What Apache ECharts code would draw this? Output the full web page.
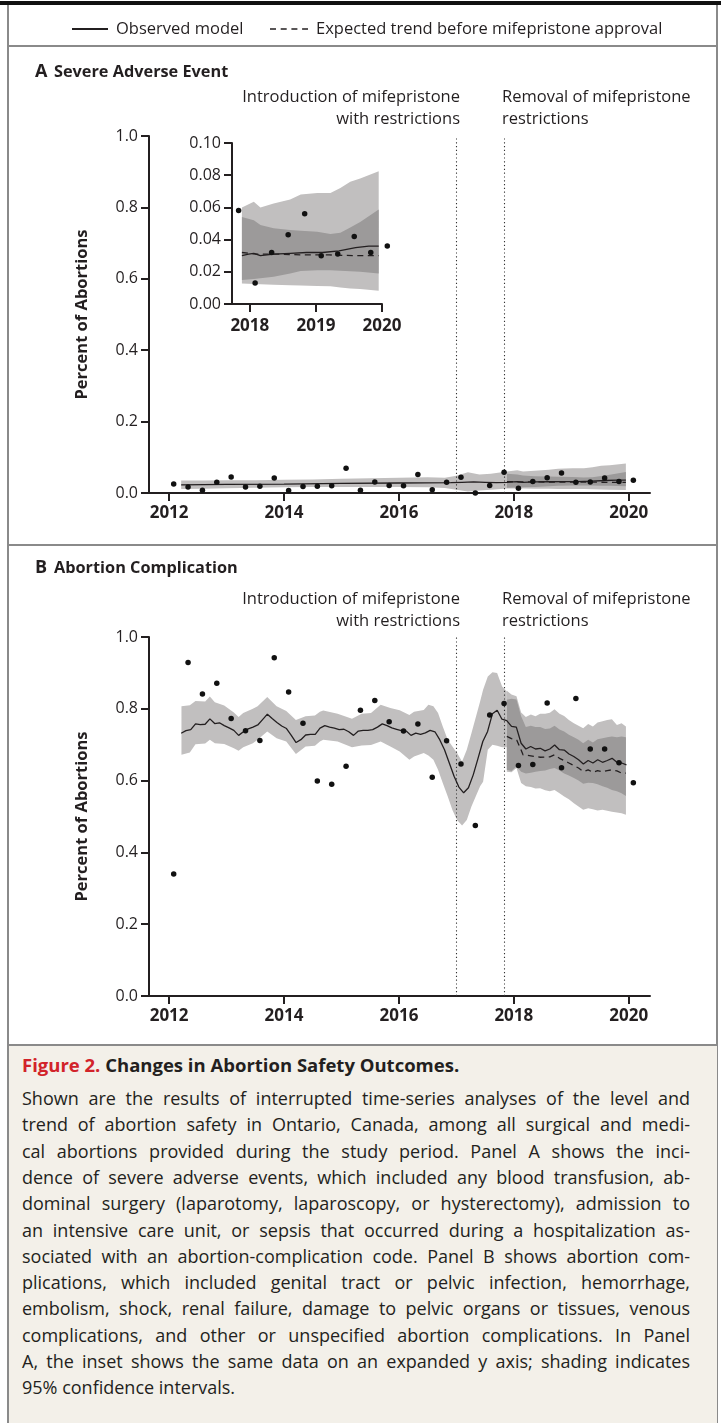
<!DOCTYPE html>
<html><head><meta charset="utf-8">
<script src="https://cdn.jsdelivr.net/npm/echarts@6/dist/echarts.min.js"></script>
<style>
html,body{margin:0;padding:0;background:#fff;}
#wrap{position:relative;width:721px;height:1423px;overflow:hidden;}
#chart{position:absolute;left:0;top:0;width:721px;height:1423px;}
#caption{position:absolute;left:9px;top:1046px;width:708px;height:377px;background:#f3f0e9;font-family:"Open Sans",sans-serif;color:#231f20;}
#caption .ttl{position:absolute;left:13px;top:6px;font-size:18.5px;font-weight:bold;line-height:26px;white-space:nowrap;}
#caption .ttl span{color:#d2232a;}
#caption .ln{position:absolute;left:13px;width:668px;font-size:17.5px;line-height:26px;white-space:nowrap;text-align:justify;text-align-last:justify;}
#caption .ln.last{text-align-last:left;}
#measure{position:absolute;visibility:hidden;white-space:nowrap;font-family:"Open Sans",sans-serif;font-size:20px;}
</style></head>
<body><div id="wrap"><div id="chart"></div><div id="caption"></div><span id="measure"></span></div>
<script>
// ---------- data ----------
const quarterStart = 2012.08;           // first quarterly observation
const monthStart = 2012.21;             // first monthly model estimate
const xTickYears = [2012, 2014, 2016, 2018, 2020];
const insetTickYears = [2018, 2019, 2020];
const eventYears = [2017.0, 2017.83];

// Panel A: severe adverse events (observed quarterly points)
const aPoints = [0.025,0.017,0.008,0.030,0.045,0.017,0.019,0.042,0.007,0.018,0.019,0.020,0.069,0.008,0.031,0.021,0.020,0.052,0.009,0.030,0.044,0.000,0.021,0.058,0.013,0.032,0.043,0.056,0.030,0.031,0.042,0.032,0.036];
// Panel A observed model line
const aLineX = [2012.21,2013.0,2014.0,2015.0,2016.0,2016.9,2017.1,2017.3,2017.5,2017.7,2017.88,2017.98,2018.06,2018.16,2018.36,2018.61,2018.86,2019.1,2019.35,2019.6,2019.8,2019.95];
const aLineY = [0.023,0.024,0.025,0.027,0.028,0.029,0.030,0.031,0.030,0.029,0.030,0.031,0.0315,0.030,0.031,0.0315,0.032,0.032,0.033,0.035,0.036,0.036];
// Panel A expected trend
const aDashX = [2017.88,2018.1,2018.4,2018.8,2019.2,2019.6,2019.95];
const aDashY = [0.032,0.031,0.031,0.0305,0.0305,0.030,0.030];
// Panel A confidence bands
const aPreX  = [2012.21,2012.6,2013.0,2013.5,2014.0,2014.5,2015.0,2015.5,2016.0,2016.5,2016.8,2017.0,2017.2,2017.4,2017.6,2017.88];
const aPreHi = [0.035,0.035,0.036,0.036,0.037,0.038,0.040,0.041,0.043,0.044,0.043,0.048,0.058,0.052,0.054,0.060];
const aPreLo = [0.011,0.012,0.013,0.015,0.016,0.017,0.017,0.017,0.017,0.016,0.014,0.009,0.004,0.007,0.009,0.0128];
const aPostX = [2017.88,2018.06,2018.16,2018.36,2018.61,2018.77,2019.02,2019.22,2019.37,2019.52,2019.67,2019.95];
const aOuterHi = [0.060,0.0635,0.060,0.0624,0.0649,0.068,0.069,0.069,0.072,0.076,0.078,0.0825];
const aOuterLo = [0.0128,0.0124,0.0123,0.012,0.0117,0.0115,0.0112,0.011,0.0102,0.0097,0.0093,0.0083];
const aInnerHi = [0.054,0.052,0.049,0.047,0.046,0.0455,0.0448,0.0435,0.0442,0.0475,0.051,0.0587];
const aInnerLo = [0.0149,0.0155,0.016,0.017,0.019,0.0205,0.021,0.021,0.0207,0.0203,0.020,0.019];

// Panel B: abortion complications
const bPoints = [0.340,0.929,0.841,0.871,0.773,0.739,0.712,0.942,0.847,0.760,0.599,0.590,0.640,0.796,0.823,0.764,0.738,0.758,0.609,0.711,0.646,0.475,0.783,0.815,0.642,0.645,0.816,0.636,0.829,0.688,0.688,0.650,0.594];
const bLine = [0.732,0.739,0.742,0.758,0.756,0.757,0.772,0.759,0.761,0.753,
0.747,0.740,0.726,0.736,0.744,0.749,0.755,0.770,0.785,0.773,
0.762,0.752,0.745,0.726,0.706,0.714,0.727,0.729,0.729,0.746,
0.753,0.749,0.746,0.742,0.743,0.736,0.726,0.738,0.740,0.740,
0.742,0.749,0.758,0.753,0.747,0.743,0.739,0.738,0.726,0.732,
0.729,0.733,0.740,0.736,0.714,0.686,0.649,0.612,0.582,0.566,
0.580,0.616,0.662,0.709,0.737,0.786,0.796,0.771,0.767,0.751,
0.749,0.704,0.688,0.695,0.688,0.690,0.683,0.688,0.699,0.686,
0.685,0.674,0.667,0.658,0.646,0.656,0.649,0.658,0.651,0.656,
0.662,0.651,0.649,0.644];
const bDashX = [2017.878,2017.959,2018.05,2018.10,2018.16,2018.296,2018.458,2018.627,2018.708,2018.795,2018.958,2019.126,2019.207,2019.294,2019.376,2019.457,2019.544,2019.625,2019.707,2019.794,2019.875,2019.951];
const bDashY = [0.723,0.717,0.713,0.695,0.672,0.669,0.665,0.666,0.672,0.662,0.649,0.635,0.625,0.630,0.623,0.628,0.624,0.628,0.630,0.627,0.621,0.621];
const bPreX = [2012.215,2012.361,2012.459,2012.628,2012.709,2012.796,2012.959,2013.127,2013.209,2013.290,2013.458,2013.540,2013.708,2013.871,2014.039,2014.207,2014.376,2014.538,2014.625,2014.683,2014.933,2015.183,2015.351,2015.514,2015.682,2015.851,2016.013,2016.182,2016.263,2016.432,2016.513,2016.600,2016.681,2016.763,2016.850,2016.931,2017.012,2017.099,2017.181,2017.262,2017.413,2017.465,2017.547,2017.628,2017.709,2017.796,2017.878];
const bPreHi = [0.807,0.810,0.822,0.820,0.834,0.818,0.809,0.790,0.777,0.788,0.800,0.807,0.833,0.807,0.794,0.769,0.779,0.781,0.792,0.795,0.786,0.772,0.786,0.788,0.811,0.802,0.796,0.783,0.792,0.797,0.811,0.807,0.788,0.751,0.714,0.695,0.677,0.653,0.686,0.732,0.820,0.853,0.890,0.902,0.900,0.862,0.848];
const bPreLo = [0.672,0.678,0.701,0.703,0.714,0.704,0.702,0.690,0.683,0.693,0.704,0.714,0.737,0.718,0.709,0.674,0.695,0.697,0.709,0.714,0.709,0.693,0.698,0.699,0.709,0.695,0.681,0.658,0.667,0.677,0.670,0.658,0.630,0.593,0.556,0.518,0.490,0.475,0.490,0.528,0.584,0.597,0.686,0.700,0.697,0.693,0.693];
const bPostX = [2017.878,2017.959,2018.046,2018.127,2018.209,2018.296,2018.377,2018.458,2018.545,2018.627,2018.708,2018.795,2018.876,2018.958,2019.045,2019.126,2019.207,2019.294,2019.376,2019.457,2019.544,2019.625,2019.707,2019.794,2019.875,2019.951];
const bOuterHi = [0.850,0.840,0.835,0.790,0.777,0.784,0.779,0.786,0.786,0.789,0.799,0.786,0.780,0.769,0.760,0.753,0.746,0.758,0.751,0.762,0.765,0.769,0.771,0.755,0.760,0.751];
const bOuterLo = [0.625,0.623,0.635,0.593,0.584,0.582,0.578,0.579,0.573,0.570,0.574,0.565,0.556,0.548,0.537,0.528,0.519,0.523,0.520,0.517,0.519,0.516,0.513,0.511,0.509,0.505];
const bInnerHi = [0.825,0.828,0.826,0.779,0.749,0.753,0.749,0.749,0.744,0.745,0.753,0.742,0.737,0.728,0.721,0.714,0.704,0.714,0.706,0.715,0.718,0.721,0.723,0.721,0.723,0.721];
const bInnerLo = [0.630,0.627,0.639,0.625,0.620,0.622,0.625,0.627,0.628,0.632,0.635,0.628,0.620,0.614,0.607,0.600,0.591,0.594,0.593,0.590,0.584,0.580,0.574,0.570,0.565,0.557];

const captionTitle = ["Figure 2.", " Changes in Abortion Safety Outcomes."];
const captionLines = [
"Shown are the results of interrupted time-series analyses of the level and",
"trend of abortion safety in Ontario, Canada, among all surgical and medi-",
"cal abortions provided during the study period. Panel A shows the inci-",
"dence of severe adverse events, which included any blood transfusion, ab-",
"dominal surgery (laparotomy, laparoscopy, or hysterectomy), admission to",
"an intensive care unit, or sepsis that occurred during a hospitalization as-",
"sociated with an abortion-complication code. Panel B shows abortion com-",
"plications, which included genital tract or pelvic infection, hemorrhage,",
"embolism, shock, renal failure, damage to pelvic organs or tissues, venous",
"complications, and other or unspecified abortion complications. In Panel",
"A, the inset shows the same data on an expanded y axis; shading indicates",
"95% confidence intervals."
];

// ---------- caption ----------
const cap = document.getElementById('caption');
const meas = document.getElementById('measure');
let maxW = 0;
captionLines.forEach(function (s) { meas.textContent = s; maxW = Math.max(maxW, meas.getBoundingClientRect().width); });
const capFont = Math.min(18, 20 * 664 / maxW);
const t = document.createElement('div'); t.className = 'ttl';
t.innerHTML = '<span>' + captionTitle[0] + '</span>' + captionTitle[1];
cap.appendChild(t);
captionLines.forEach(function (s, i) {
  const d = document.createElement('div');
  d.className = 'ln' + (i === captionLines.length - 1 ? ' last' : '');
  d.style.top = (39 + i * 26.3) + 'px';
  d.style.fontSize = capFont + 'px';
  d.textContent = s;
  cap.appendChild(d);
});

// ---------- chart ----------
const INK = '#231f20';
const LIGHT = '#c1bfbf';
const DARK = '#9c9a9a';
const FONT = '"Open Sans", sans-serif';
const qx = function (i) { return quarterStart + i * 0.25; };
const mx = function (i) { return monthStart + i / 12; };

function pairs(xs, ys) { return xs.map(function (x, i) { return [x, ys[i]]; }); }

function band(xi, xs, lo, hi, color, z) {
  const data = xs.map(function (x, i) { return [x, lo[i], hi[i]]; });
  return {
    type: 'custom', xAxisIndex: xi, yAxisIndex: xi, z: z, silent: true,
    data: data, encode: { x: 0, y: [1, 2] },
    renderItem: function (params, api) {
      if (params.dataIndex !== 0) return null;
      const pts = [];
      for (let i = 0; i < data.length; i++) pts.push(api.coord([data[i][0], data[i][2]]));
      for (let i = data.length - 1; i >= 0; i--) pts.push(api.coord([data[i][0], data[i][1]]));
      return { type: 'polygon', shape: { points: pts }, style: { fill: color } };
    }
  };
}
function line(xi, data, dashed, clip) {
  return {
    type: 'line', xAxisIndex: xi, yAxisIndex: xi, data: data, showSymbol: false, z: 5, silent: true,
    clip: clip !== false,
    lineStyle: { color: INK, width: 1.3, type: dashed ? [6, 4.5] : 'solid' }
  };
}
function dots(xi, data, withMarks, clip) {
  const s = {
    type: 'scatter', xAxisIndex: xi, yAxisIndex: xi, data: data, symbolSize: 5.5, z: 6, silent: true,
    clip: clip !== false,
    itemStyle: { color: '#111', opacity: 1 }
  };
  if (withMarks) {
    s.markLine = {
      symbol: 'none', silent: true, label: { show: false }, animation: false,
      lineStyle: { type: [1.2, 2.6], color: '#333', width: 1.1 },
      data: eventYears.map(function (y) { return { xAxis: y }; })
    };
  }
  return s;
}
function xAxis(gi, min, max, ticks, margin) {
  return {
    type: 'value', gridIndex: gi, min: min, max: max,
    axisLine: { show: true, onZero: false, lineStyle: { color: INK, width: 2 } },
    axisTick: { show: true, length: 8, lineStyle: { color: INK, width: 2 }, customValues: ticks },
    axisLabel: { customValues: ticks, color: INK, fontFamily: FONT, fontSize: 17, fontWeight: 'bold', margin: margin,
      formatter: function (v) { return String(Math.round(v)); } },
    splitLine: { show: false }
  };
}
function yAxis(gi, max, interval, digits, name) {
  return {
    type: 'value', gridIndex: gi, min: 0, max: max, interval: interval,
    name: name, nameLocation: 'middle', nameGap: 58, nameRotate: 90,
    nameTextStyle: { color: INK, fontFamily: FONT, fontSize: 16.5, fontWeight: 'bold' },
    axisLine: { show: true, lineStyle: { color: INK, width: 2 } },
    axisTick: { show: true, length: 8, lineStyle: { color: INK, width: 2 } },
    axisLabel: { color: INK, fontFamily: FONT, fontSize: 16, margin: 11, showMinLabel: true, showMaxLabel: true,
      formatter: function (v) { return v.toFixed(digits); } },
    splitLine: { show: false }
  };
}

const aPts = aPoints.map(function (v, i) { return [qx(i), v]; });
const bPts = bPoints.map(function (v, i) { return [qx(i), v]; });
const insetPts = aPts.filter(function (p) { return p[0] >= 2017.8; });
const insetLine = pairs(aLineX, aLineY).filter(function (p) { return p[0] >= 2017.88; });
const bLinePts = bLine.map(function (v, i) { return [mx(i), v]; });

function txt(x, y, s, opt) {
  return { type: 'text', x: x, y: y, silent: true, style: Object.assign({
    text: s, fill: INK, font: '16.5px ' + FONT, textAlign: 'left', textVerticalAlign: 'middle' }, opt || {}) };
}
function hl(x1, y, x2, color, w, dash) {
  return { type: 'line', silent: true, shape: { x1: x1, y1: y, x2: x2, y2: y },
    style: { stroke: color, lineWidth: w, lineDash: dash || null } };
}
const FRAME = '#8a8a8a';
const graphics = [
  { type: 'rect', silent: true, shape: { x: 0, y: 1, width: 721, height: 4 }, style: { fill: '#111' } },
  { type: 'line', silent: true, shape: { x1: 8, y1: 5, x2: 8, y2: 1423 }, style: { stroke: FRAME, lineWidth: 2 } },
  { type: 'line', silent: true, shape: { x1: 717, y1: 5, x2: 717, y2: 1423 }, style: { stroke: FRAME, lineWidth: 2 } },
  hl(8, 46, 717, FRAME, 2), hl(8, 545, 717, FRAME, 2), hl(8, 1045, 717, FRAME, 2),
  hl(72, 29, 108, INK, 2), txt(116, 29, 'Observed model'),
  hl(270, 29, 308, INK, 1.5, [6, 4.7]), txt(316, 29, 'Expected trend before mifepristone approval'),
  txt(35, 72, 'A', { font: 'bold 18px ' + FONT }), txt(54, 72, 'Severe Adverse Event', { font: 'bold 16.3px ' + FONT }),
  txt(35, 568, 'B', { font: 'bold 18px ' + FONT }), txt(54, 568, 'Abortion Complication', { font: 'bold 16.3px ' + FONT }),
  txt(460, 97, 'Introduction of mifepristone', { textAlign: 'right' }),
  txt(460, 119, 'with restrictions', { textAlign: 'right' }),
  txt(502, 97, 'Removal of mifepristone'), txt(502, 119, 'restrictions'),
  txt(460, 599, 'Introduction of mifepristone', { textAlign: 'right' }),
  txt(460, 621, 'with restrictions', { textAlign: 'right' }),
  txt(502, 599, 'Removal of mifepristone'), txt(502, 621, 'restrictions')
];

const option = {
  animation: false,
  backgroundColor: 'transparent',
  grid: [
    { left: 149, top: 136, width: 501, height: 357 },
    { left: 232, top: 143, width: 150, height: 161 },
    { left: 149, top: 637, width: 501, height: 359 }
  ],
  xAxis: [
    xAxis(0, 2011.65, 2020.37, xTickYears, 12),
    xAxis(1, 2017.73, 2020, insetTickYears, 14),
    xAxis(2, 2011.65, 2020.37, xTickYears, 12)
  ],
  yAxis: [
    yAxis(0, 1, 0.2, 1, 'Percent of Abortions'),
    yAxis(1, 0.1, 0.02, 2, ''),
    yAxis(2, 1, 0.2, 1, 'Percent of Abortions')
  ],
  graphic: graphics,
  series: [
    band(0, aPreX, aPreLo, aPreHi, LIGHT, 1),
    band(0, aPostX, aOuterLo, aOuterHi, LIGHT, 1),
    band(0, aPostX, aInnerLo, aInnerHi, DARK, 2),
    line(0, pairs(aLineX, aLineY), false),
    line(0, pairs(aDashX, aDashY), true),
    dots(0, aPts, true),

    band(1, aPostX, aOuterLo, aOuterHi, LIGHT, 1),
    band(1, aPostX, aInnerLo, aInnerHi, DARK, 2),
    line(1, insetLine, false),
    line(1, pairs(aDashX, aDashY), true),
    dots(1, insetPts, false, false),

    band(2, bPreX, bPreLo, bPreHi, LIGHT, 1),
    band(2, bPostX, bOuterLo, bOuterHi, LIGHT, 1),
    band(2, bPostX, bInnerLo, bInnerHi, DARK, 2),
    line(2, bLinePts, false),
    line(2, pairs(bDashX, bDashY), true),
    dots(2, bPts, true)
  ]
};
const chart = echarts.init(document.getElementById('chart'), null, { renderer: 'canvas' });
chart.setOption(option);
</script></body></html>
